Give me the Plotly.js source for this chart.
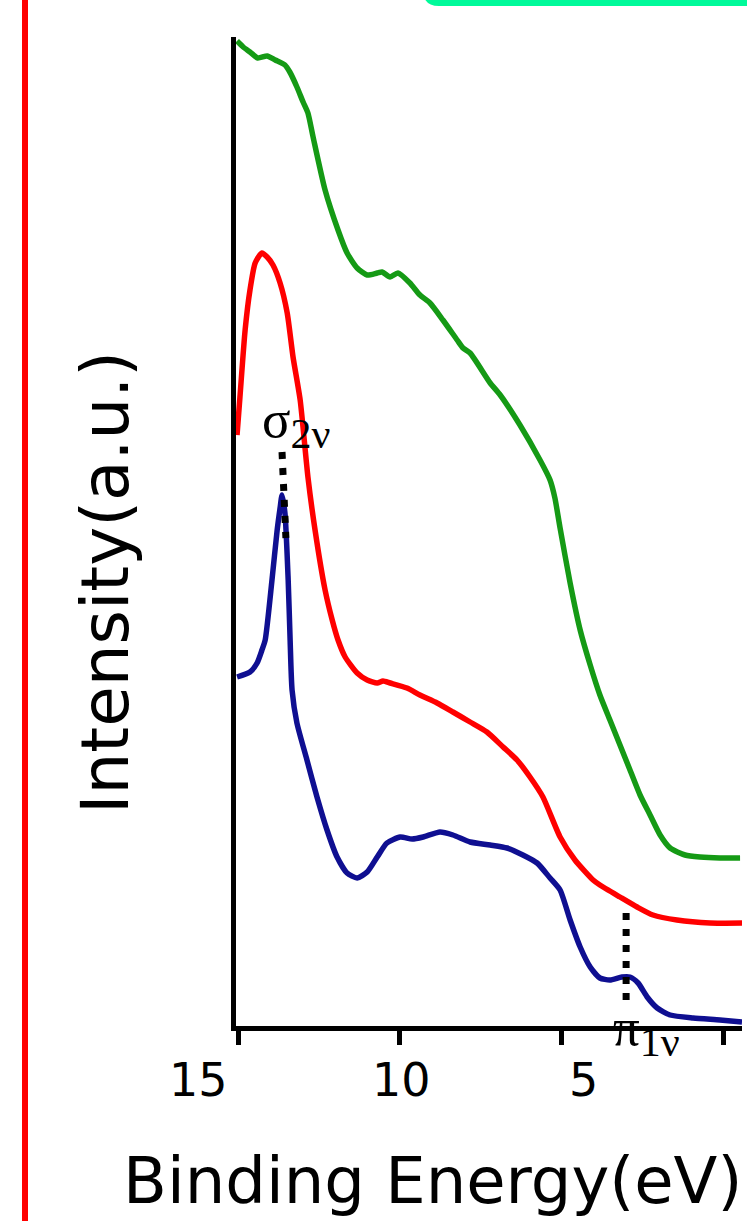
<!DOCTYPE html>
<html>
<head>
<meta charset="utf-8">
<script src="https://cdn.plot.ly/plotly-3.0.1.min.js"></script>
<style>
  html, body { margin: 0; padding: 0; background: #ffffff; }
  #chart { width: 747px; height: 1221px; }
</style>
</head>
<body>
<div id="chart"></div>
<script>
// Valence-band photoemission spectra (binding energy in eV, intensity in a.u.)
const energyGreen = [15.03,14.84,14.63,14.39,14.10,13.85,13.55,13.40,13.18,12.99,12.84,12.68,12.31,11.91,11.63,11.32,11.01,10.70,10.55,10.30,10.06,9.69,9.38,9.07,8.67,8.23,8.05,7.83,7.21,6.90,6.29,5.67,5.36,5.21,5.05,4.74,4.43,4.12,3.82,3.51,3.20,2.89,2.58,2.27,1.96,1.65,1.19,0.73,0.11,-0.51];
const intensityGreen = [987,981,976,970,972,968,963,956,941,926,915,891,838,798,775,760,753,755,756,751,755,745,733,725,708,688,680,675,645,633,603,568,548,530,500,445,398,363,333,308,283,258,233,213,193,180,173,171,170,170];

const energyRed = [15.03,14.94,14.78,14.63,14.47,14.26,14.10,13.92,13.70,13.48,13.30,13.08,12.84,12.62,12.31,12.09,11.91,11.69,11.32,11.01,10.70,10.52,10.30,9.78,9.38,8.85,8.36,7.83,7.31,6.81,6.38,5.98,5.58,5.05,4.59,4.03,3.82,3.20,2.67,2.18,1.44,0.42,-0.57];
const intensityRed = [593,631,698,738,765,775,771,763,745,715,671,628,551,498,438,408,388,371,355,348,345,347,345,340,333,325,316,306,296,281,268,251,231,191,168,148,143,131,121,113,108,105,105];

const energyBlue = [15.03,14.63,14.41,14.26,14.16,13.95,13.79,13.70,13.64,13.55,13.45,13.39,13.33,13.18,12.87,12.56,12.25,11.94,11.63,11.32,11.01,10.70,10.40,9.99,9.62,9.28,8.76,8.36,7.83,7.21,6.69,6.20,5.76,5.36,5.05,4.74,4.43,4.12,3.82,3.51,3.14,2.89,2.64,2.36,2.05,1.65,0.94,0.11,-0.57];
const intensityBlue = [351,356,365,378,388,448,498,520,533,515,448,388,338,305,268,231,198,171,155,150,156,171,185,191,189,191,196,193,186,183,180,173,165,150,138,108,81,61,50,48,51,51,45,31,20,13,10,8,6];

// Orbital markers: energy at top/bottom of each dotted guide and its intensity span
const sigmaMarkerEnergy = [13.64, 13.52];
const sigmaMarkerIntensity = [576, 490];
const piMarkerEnergy = [3.01, 3.01];
const piMarkerIntensity = [115, 27];

// Axis ticks and their labels
const tickValues = [15, 10, 5, 0];
const tickLabels = ['15', '10', '5'];

// --- layout geometry (pixels) ---
const M = { l: 236, r: 5, t: 37, b: 195 };
const PW = 747 - M.l - M.r;
const PH = 1221 - M.t - M.b;
const bottomEdge = M.t + PH;
const px = v => (v - M.l) / PW;          // page x -> paper x
const py = v => (bottomEdge - v) / PH;    // page y -> paper y

const lineStyle = (color) => ({ color: color, width: 5.5, shape: 'spline', smoothing: 0.6 });

const traces = [
  { x: energyGreen, y: intensityGreen, type: 'scatter', mode: 'lines', line: lineStyle('#159a15'), hoverinfo: 'skip' },
  { x: energyRed, y: intensityRed, type: 'scatter', mode: 'lines', line: lineStyle('#ff0000'), hoverinfo: 'skip' },
  { x: energyBlue, y: intensityBlue, type: 'scatter', mode: 'lines', line: lineStyle('#0f0f91'), hoverinfo: 'skip' }
];

const dotted = { color: '#000000', width: 7, dash: '7px,9px' };

const r = 16;
const panelPath = `M ${px(423)},${py(-40)} L ${px(423)},${py(6 - r)} Q ${px(423)},${py(6)} ${px(423 + r)},${py(6)} L ${px(760)},${py(6)} L ${px(760)},${py(-40)} Z`;

const shapes = [
  // red frame edge on the left
  { type: 'line', xref: 'paper', yref: 'paper', x0: px(25), x1: px(25), y0: py(-5), y1: py(1226),
    line: { color: '#ff0000', width: 6 } },
  // bottom edge of the rounded panel above
  { type: 'path', xref: 'paper', yref: 'paper', path: panelPath,
    fillcolor: '#00fa9a', line: { width: 0 } },
  // dotted guides marking the orbital peaks
  { type: 'line', xref: 'x', yref: 'y', x0: sigmaMarkerEnergy[0], x1: sigmaMarkerEnergy[1],
    y0: sigmaMarkerIntensity[0], y1: sigmaMarkerIntensity[1], line: dotted },
  { type: 'line', xref: 'x', yref: 'y', x0: piMarkerEnergy[0], x1: piMarkerEnergy[1],
    y0: piMarkerIntensity[0], y1: piMarkerIntensity[1], line: dotted }
];

const tickLabelX = [198, 401, 583];
const annotations = tickLabels.map((t, i) => ({
  text: t, xref: 'paper', yref: 'paper', x: px(tickLabelX[i]), y: py(1080),
  xanchor: 'center', yanchor: 'middle', showarrow: false,
  font: { family: 'DejaVu Sans', size: 46, color: '#000000' }
}));

const subStyle = 'font-size:42px';
annotations.push(
  { text: 'Binding Energy(eV)', xref: 'paper', yref: 'paper', x: px(432), y: py(1181),
    xanchor: 'center', yanchor: 'middle', showarrow: false,
    font: { family: 'DejaVu Sans', size: 64, color: '#000000' } },
  { text: 'Intensity(a.u.)', xref: 'paper', yref: 'paper', x: px(105), y: py(583),
    xanchor: 'center', yanchor: 'middle', showarrow: false, textangle: -90,
    font: { family: 'DejaVu Sans', size: 66, color: '#000000' } },
  { text: `σ<sub><span style="${subStyle}">2ν</span></sub>`, xref: 'paper', yref: 'paper', x: px(260), y: py(423),
    xanchor: 'left', yanchor: 'middle', showarrow: false,
    font: { family: 'Liberation Serif', size: 53, color: '#000000' } },
  { text: `π<sub><span style="${subStyle}">1ν</span></sub>`, xref: 'paper', yref: 'paper', x: px(611), y: py(1031),
    xanchor: 'left', yanchor: 'middle', showarrow: false,
    font: { family: 'Liberation Serif', size: 53, color: '#000000' } }
);

const layout = {
  width: 747, height: 1221,
  margin: M,
  paper_bgcolor: '#ffffff', plot_bgcolor: '#ffffff',
  showlegend: false,
  xaxis: {
    range: [15.062, -0.570],
    showline: true, linecolor: '#000000', linewidth: 5,
    ticks: 'outside', ticklen: 14, tickwidth: 5, tickcolor: '#000000',
    tickmode: 'array', tickvals: tickValues, showticklabels: false,
    showgrid: false, zeroline: false, fixedrange: true
  },
  yaxis: {
    range: [2, 991],
    showline: true, linecolor: '#000000', linewidth: 5,
    ticks: '', showticklabels: false,
    showgrid: false, zeroline: false, fixedrange: true
  },
  shapes: shapes,
  annotations: annotations
};

Plotly.newPlot('chart', traces, layout, { displayModeBar: false, staticPlot: true });
</script>
</body>
</html>
